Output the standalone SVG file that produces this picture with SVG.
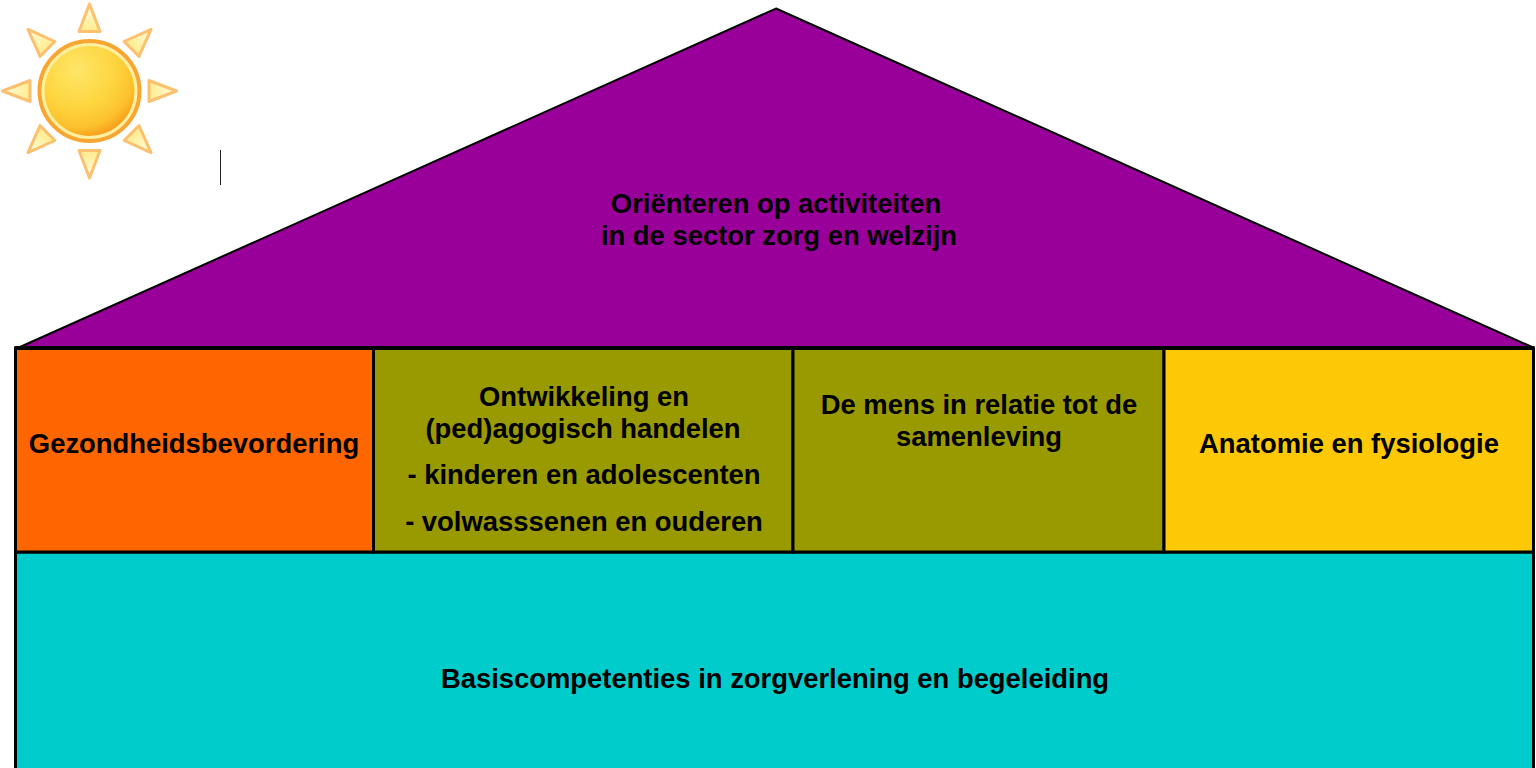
<svg xmlns="http://www.w3.org/2000/svg" width="1536" height="768" viewBox="0 0 1536 768">
<style>
.b{stroke:#000;stroke-width:3}
text{font-family:"Liberation Sans",Arial,sans-serif;font-weight:700;font-size:27.4px;fill:#000;text-anchor:middle}
.ray{fill:url(#rayfill);stroke:#fbc070;stroke-width:3;stroke-linejoin:round}
</style>
<defs>
<radialGradient id="sunfill" gradientUnits="userSpaceOnUse" cx="-12" cy="-21" r="68">
<stop offset="0" stop-color="#ffe668"/><stop offset="0.55" stop-color="#fdd53f"/><stop offset="0.85" stop-color="#fcc02c"/><stop offset="1" stop-color="#f8a020"/>
</radialGradient>
<linearGradient id="rayfill" x1="0" y1="0" x2="0" y2="1">
<stop offset="0" stop-color="#fffde0"/><stop offset="1" stop-color="#ffec8c"/>
</linearGradient>
<filter id="soft" x="-5%" y="-5%" width="110%" height="110%"><feGaussianBlur stdDeviation="0.5"/></filter>
<polygon id="r" class="ray" points="0,-87 -10.500,-59.500 10.500,-59.500"/>
</defs>
<rect width="1536" height="768" fill="#fff"/>
<g id="sun" filter="url(#soft)">
<g transform="translate(89.500,91)">
<use href="#r"/>
<use href="#r" transform="rotate(45)"/>
<use href="#r" transform="rotate(90)"/>
<use href="#r" transform="rotate(135)"/>
<use href="#r" transform="rotate(180)"/>
<use href="#r" transform="rotate(225)"/>
<use href="#r" transform="rotate(270)"/>
<use href="#r" transform="rotate(315)"/>
<circle r="50" fill="#fff0a0" stroke="#f8a531" stroke-width="4"/>
<circle r="45" fill="url(#sunfill)"/>
</g>
</g>
<path id="tick" d="M220.500 150V185" stroke="#222" stroke-width="1" fill="none"/>
<g id="roof">
<polygon points="776,8.500 1532,347 20,347" fill="#990099" stroke="#000" stroke-width="2"/>
<text x="776" y="213">Oriënteren op activiteiten</text>
<text x="779" y="245">in de sector zorg en welzijn</text>
</g>
<g id="base">
<rect class="b" x="15.500" y="552" width="1518" height="230" fill="#00cccc"/>
<text x="775" y="688">Basiscompetenties in zorgverlening en begeleiding</text>
</g>
<g id="gezondheid">
<rect class="b" x="15.500" y="348" width="358" height="204" fill="#ff6600"/>
<text x="194" y="453">Gezondheidsbevordering</text>
</g>
<g id="ontwikkeling">
<rect class="b" x="373.500" y="348" width="419.500" height="204" fill="#999900"/>
<text x="584" y="406">Ontwikkeling en</text>
<text x="583" y="438">(ped)agogisch handelen</text>
<text x="584" y="484">- kinderen en adolescenten</text>
<text x="584" y="531">- volwasssenen en ouderen</text>
</g>
<g id="mens">
<rect class="b" x="793" y="348" width="371" height="204" fill="#999900"/>
<text x="979" y="414">De mens in relatie tot de</text>
<text x="979" y="446">samenleving</text>
</g>
<g id="anatomie">
<rect class="b" x="1164" y="348" width="369.500" height="204" fill="#fdc806"/>
<text x="1349" y="453">Anatomie en fysiologie</text>
</g>
<path id="top-line" d="M15 348H1534" stroke="#000" stroke-width="4" fill="none"/>
</svg>
